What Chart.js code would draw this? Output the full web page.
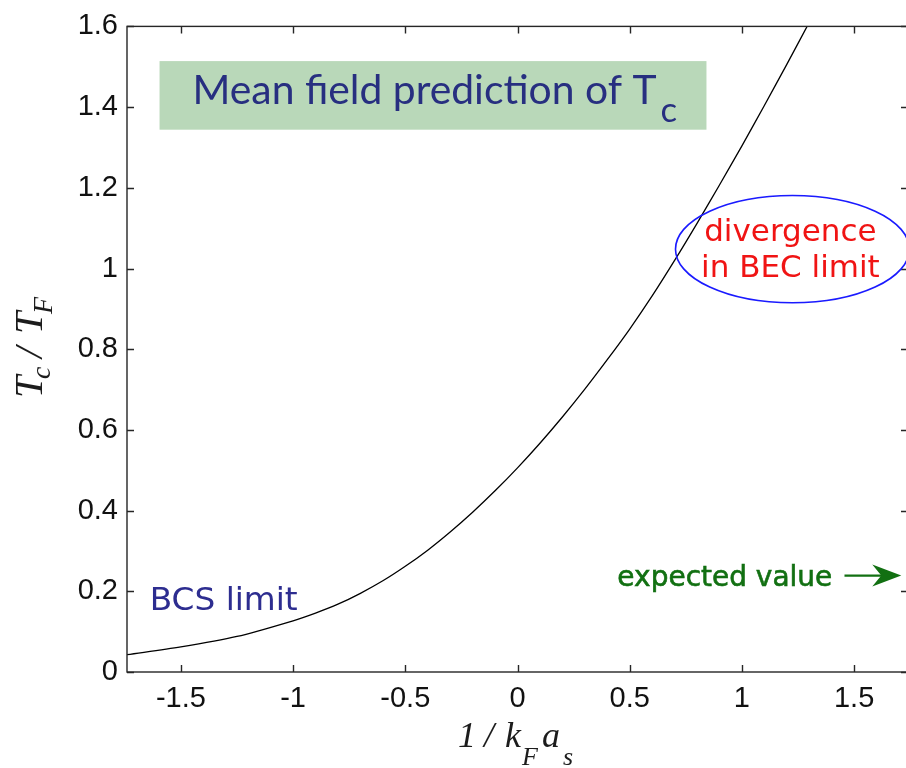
<!DOCTYPE html>
<html><head><meta charset="utf-8">
<script src="https://cdn.jsdelivr.net/npm/chart.js@4/dist/chart.umd.min.js"></script>
<style>
html,body{margin:0;padding:0;background:#fff;overflow:hidden;}
#wrap{width:912px;height:768px;position:relative;}
canvas{display:block;}
</style></head><body>
<div id="wrap"><canvas id="c" width="912" height="768"></canvas></div>
<script>
// ---- data ----
const invKFa = [-1.74,-1.5,-1.25,-1,-0.9,-0.8,-0.7,-0.6,-0.5,-0.4,-0.3,-0.2,-0.1,0,0.1,0.2,0.3,0.4,0.5,0.6,0.7,0.8,0.9,1,1.1,1.2,1.3];
const tcOverTF = [0.043,0.062,0.088,0.127,0.146,0.168,0.195,0.226,0.262,0.302,0.347,0.396,0.449,0.506,0.567,0.632,0.701,0.774,0.850,0.932,1.020,1.112,1.207,1.304,1.404,1.506,1.610];
const xTicks = [-1.5,-1,-0.5,0,0.5,1,1.5];
const xTickLabels = ['-1.5','-1','-0.5','0','0.5','1','1.5'];
const yTicks = [0,0.2,0.4,0.6,0.8,1,1.2,1.4,1.6];
const yTickLabels = ['0','0.2','0.4','0.6','0.8','1','1.2','1.4','1.6'];
const titleText = 'Mean field prediction of T';
const titleSub = 'c';
const bcsText = 'BCS limit';
const becLines = ['divergence','in BEC limit'];
const expectedText = 'expected value';

const points = invKFa.map((x,i)=>({x:x,y:tcOverTF[i]}));

function fitFont(ctx, text, style, family, target, base){
  ctx.font = style + ' ' + base + 'px ' + family;
  const w = ctx.measureText(text).width;
  return base * target / w;
}

const decor = {
  id:'decor',
  beforeDatasetsDraw(chart){
    const ctx = chart.ctx, xs = chart.scales.x, ys = chart.scales.y;
    ctx.save();
    // green title box
    const bx0 = xs.getPixelForValue(-1.595), bx1 = xs.getPixelForValue(0.842);
    const by0 = ys.getPixelForValue(1.514), by1 = ys.getPixelForValue(1.344);
    ctx.fillStyle = '#b9d8b9';
    ctx.fillRect(bx0, by0, bx1-bx0, by1-by0);
    // title text
    const fam = 'Lato, "Noto Sans", sans-serif';
    const fs = fitFont(ctx, titleText, '', fam, 464, 36);
    ctx.font = fs + 'px ' + fam;
    ctx.fillStyle = '#272f80';
    ctx.textBaseline = 'alphabetic';
    ctx.textAlign = 'left';
    const tx = xs.getPixelForValue(-1.448), tb = ys.getPixelForValue(1.408);
    ctx.fillText(titleText, tx, tb);
    const tw = ctx.measureText(titleText).width;
    ctx.font = (fs*0.85) + 'px ' + fam;
    ctx.fillText(titleSub, tx + tw + 4, tb + 18);
    ctx.restore();
  },
  afterDraw(chart){
    const ctx = chart.ctx, xs = chart.scales.x, ys = chart.scales.y;
    const a = chart.chartArea;
    ctx.save();
    // frame
    ctx.strokeStyle = '#262626';
    ctx.lineWidth = 1.4;
    ctx.strokeRect(a.left, a.top, a.right-a.left, a.bottom-a.top);
    // inward ticks
    const tl = 7;
    ctx.beginPath();
    xTicks.forEach(v=>{
      const p = Math.round(xs.getPixelForValue(v))+0.5;
      ctx.moveTo(p, a.bottom); ctx.lineTo(p, a.bottom - tl);
      ctx.moveTo(p, a.top); ctx.lineTo(p, a.top + tl);
    });
    yTicks.forEach(v=>{
      const p = Math.round(ys.getPixelForValue(v))+0.5;
      ctx.moveTo(a.left, p); ctx.lineTo(a.left + tl, p);
      ctx.moveTo(a.right, p); ctx.lineTo(a.right - tl, p);
    });
    ctx.stroke();

    // BCS limit label
    const vfam = '"DejaVu Sans", Verdana, sans-serif';
    ctx.textBaseline = 'alphabetic';
    ctx.textAlign = 'left';
    ctx.fillStyle = '#2d2d90';
    ctx.font = fitFont(ctx, bcsText, '', vfam, 148, 30) + 'px ' + vfam;
    ctx.fillText(bcsText, xs.getPixelForValue(-1.639), ys.getPixelForValue(0.153));

    // ellipse + divergence text
    ctx.strokeStyle = '#1a1aff';
    ctx.lineWidth = 1.6;
    const ecx = xs.getPixelForValue(1.225), ecy = ys.getPixelForValue(1.048);
    const erx = xs.getPixelForValue(1.225+0.521) - ecx;
    const ery = ys.getPixelForValue(1.048) - ys.getPixelForValue(1.048+0.133);
    ctx.beginPath();
    ctx.ellipse(ecx, ecy, erx, ery, 0, 0, Math.PI*2);
    ctx.stroke();
    ctx.fillStyle = '#f01414';
    ctx.textAlign = 'center';
    ctx.font = '31px ' + vfam;
    const dcx = xs.getPixelForValue(1.216);
    ctx.fillText(becLines[0], dcx, ys.getPixelForValue(1.068));
    ctx.fillText(becLines[1], dcx, ys.getPixelForValue(0.979));

    // expected value + arrow
    ctx.fillStyle = '#127012';
    ctx.strokeStyle = '#127012';
    ctx.textAlign = 'left';
    const cfam = '"Comic Sans MS", "DejaVu Sans", sans-serif';
    ctx.font = fitFont(ctx, expectedText, '', cfam, 215, 26) + 'px ' + cfam;
    ctx.lineWidth = 0.6;
    const ex = xs.getPixelForValue(0.445), ey = ys.getPixelForValue(0.214);
    ctx.fillText(expectedText, ex, ey);
    ctx.strokeText(expectedText, ex, ey);
    const ay = ys.getPixelForValue(0.239);
    const ax0 = xs.getPixelForValue(1.457), ax1 = xs.getPixelForValue(1.71);
    ctx.lineWidth = 2.2;
    ctx.beginPath(); ctx.moveTo(ax0, ay); ctx.lineTo(ax1-14, ay); ctx.stroke();
    ctx.beginPath();
    ctx.moveTo(ax1, ay); ctx.lineTo(ax1-29, ay-11); ctx.lineTo(ax1-20, ay); ctx.lineTo(ax1-29, ay+11);
    ctx.closePath(); ctx.fill();

    // axis titles (serif italic with subscripts)
    const sfam = '"Liberation Serif", "Times New Roman", serif';
    ctx.fillStyle = '#1c1c1c';
    ctx.textAlign = 'left';
    // x title: 1 / k_F a_s
    const xb = 747;
    ctx.font = 'italic 36px ' + sfam;
    ctx.fillText('1', 458, xb);
    ctx.fillText('/', 484, xb);
    ctx.fillText('k', 505, xb);
    ctx.fillText('a', 542, xb);
    ctx.font = 'italic 26px ' + sfam;
    ctx.fillText('F', 522, xb+18);
    ctx.fillText('s', 563, xb+18);
    // y title: T_c / T_F (rotated)
    ctx.save();
    ctx.translate(42, 398);
    ctx.rotate(-Math.PI/2);
    ctx.font = 'italic 40px ' + sfam;
    ctx.fillText('T', 0, 0);
    ctx.fillText('/', 40, 0);
    ctx.fillText('T', 64, 0);
    ctx.font = 'italic 28px ' + sfam;
    ctx.fillText('c', 19, 8);
    ctx.fillText('F', 84, 10);
    ctx.restore();
    ctx.restore();
  }
};

new Chart(document.getElementById('c'), {
  type:'line',
  data:{datasets:[{
    data:points,
    borderColor:'#000',
    borderWidth:1.3,
    pointRadius:0,
    fill:false,
    tension:0.3
  }]},
  options:{
    responsive:false,
    animation:false,
    events:[],
    layout:{padding:{top:23,right:4,left:0,bottom:0}},
    plugins:{legend:{display:false},tooltip:{enabled:false},title:{display:false}},
    scales:{
      x:{
        type:'linear', min:-1.74, max:1.74,
        grid:{display:false, drawTicks:false},
        border:{display:false},
        afterBuildTicks:(s)=>{ s.ticks = xTicks.map(v=>({value:v})); },
        afterFit:(s)=>{ s.height = 96; },
        ticks:{
          padding:10, autoSkip:false, maxRotation:0, color:'#111',
          font:{family:'"Liberation Sans", Arial, sans-serif', size:29},
          callback:(v)=>xTickLabels[xTicks.indexOf(v)]
        }
      },
      y:{
        type:'linear', min:0, max:1.6,
        grid:{display:false, drawTicks:false},
        border:{display:false},
        afterBuildTicks:(s)=>{ s.ticks = yTicks.map(v=>({value:v})); },
        afterFit:(s)=>{ s.width = 127; },
        ticks:{
          padding:9, autoSkip:false, color:'#111',
          font:{family:'"Liberation Sans", Arial, sans-serif', size:29},
          callback:(v)=>yTickLabels[yTicks.indexOf(v)]
        }
      }
    }
  },
  plugins:[decor]
});
</script>
</body></html>
